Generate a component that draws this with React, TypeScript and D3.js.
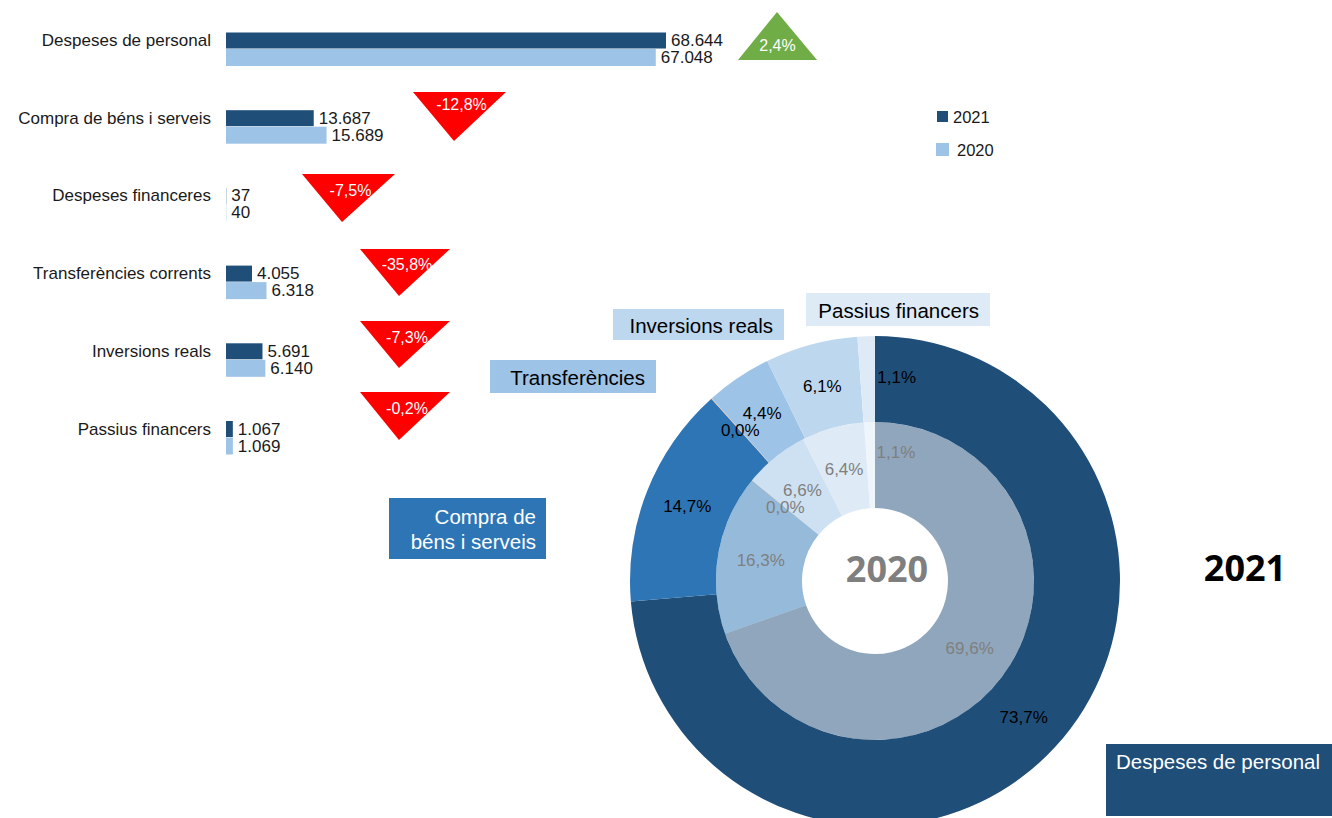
import React from "react";
import * as d3 from "d3";

// ---------- DATA ----------
const categories = [
  "Despeses de personal",
  "Compra de béns i serveis",
  "Despeses financeres",
  "Transferències corrents",
  "Inversions reals",
  "Passius financers",
];
const values2021 = [68644, 13687, 37, 4055, 5691, 1067];
const values2020 = [67048, 15689, 40, 6318, 6140, 1069];
const seriesNames = ["2021", "2020"];
const sliceColors = ["#1F4E79", "#2E75B6", "#F4B183", "#9DC3E6", "#BDD7EE", "#DEEBF7"];
const boxLabels = [
  ["Despeses de personal"],
  ["Compra de", "béns i serveis"],
  [],
  ["Transferències"],
  ["Inversions reals"],
  ["Passius financers"],
];

// ---------- LAYOUT ----------
const W = 1332;
const H = 818;
const FONT = "'Liberation Sans', Arial, Helvetica, sans-serif";
const barX0 = 226;
const barColor21 = "#1F4E79";
const barColor20 = "#9DC3E6";
// triangle annotations: left, right, top, bottom, apex x
const triLayout = [
  { l: 738, r: 817, top: 12, bot: 60, ax: 777, ty: 45 },
  { l: 413, r: 506, top: 92, bot: 141, ax: 454, ty: 104 },
  { l: 302, r: 395, top: 174, bot: 222, ax: 342, ty: 190 },
  { l: 360, r: 450, top: 249, bot: 296, ax: 399, ty: 264 },
  { l: 360, r: 450, top: 321, bot: 368, ax: 399, ty: 337 },
  { l: 360, r: 450, top: 392, bot: 440, ax: 399, ty: 408 },
];
const boxLayout = [
  { x: 1106, y: 744, w: 226, h: 72, tx: 1116, ty: 761, anchor: "start", fg: "#FFFFFF" },
  { x: 389, y: 498, w: 157, h: 61, tx: 536, ty: 516, anchor: "end", fg: "#FFFFFF" },
  null,
  { x: 490, y: 360, w: 166, h: 33, tx: 645, ty: 377, anchor: "end", fg: "#000000" },
  { x: 613, y: 309, w: 171, h: 31, tx: 773, ty: 325, anchor: "end", fg: "#000000" },
  { x: 806, y: 293, w: 184, h: 33, tx: 979, ty: 310, anchor: "end", fg: "#000000" },
];
const cx = 875;
const cy = 581;
const rHole = 73;
const rMid = 159;
const rOut = 245;
// label nudges for the narrow last slice
const outerNudge = [[0, 0], [0, 0], [0, 0], [0, 0], [0, 0], [29, -2]];
const innerNudge = [[0, 0], [0, 0], [0, 0], [0, 0], [0, 0], [25, -13]];

const fmtNum = (v: number) => d3.format(",")(v).replace(/,/g, ".");
const fmtPct = (v: number) =>
  d3.format(".1f")(v * 100).replace("\u2212", "-").replace(".", ",") + "%";

export default function App() {
  const y = d3.scalePoint<string>().domain(categories).range([48.5, 437]);
  const x = d3.scaleLinear().domain([0, 68644]).range([0, 440]);

  const pie = d3
    .pie<number>()
    .sort(null)
    .value((d) => d)
    .startAngle(0)
    .endAngle(2 * Math.PI);
  const arcs21 = pie(values2021);
  const arcs20 = pie(values2020);
  const tot21 = d3.sum(values2021);
  const tot20 = d3.sum(values2020);
  const arcOuter = d3.arc<d3.PieArcDatum<number>>().innerRadius(rMid).outerRadius(rOut);
  const arcInner = d3.arc<d3.PieArcDatum<number>>().innerRadius(rHole).outerRadius(rMid);

  return (
    <svg
      width={W}
      height={H}
      style={{ position: "absolute", left: 0, top: 0, background: "#fff" }}
      fontFamily={FONT}
    >
      {/* Bars */}
      {categories.map((c, i) => {
        const b = y(c) as number;
        const w21 = x(values2021[i]);
        const w20 = x(values2020[i]);
        return (
          <g key={c}>
            <text x={211} y={b - 8} textAnchor="end" dominantBaseline="central" fontSize={17} fill="#1a1a1a">
              {c}
            </text>
            <rect x={barX0} y={b - 16} width={w21} height={16} fill={barColor21} />
            <rect x={barX0} y={b + 0.5} width={w20} height={17} fill={barColor20} />
            <text x={barX0 + w21 + 5} y={b - 8} dominantBaseline="central" fontSize={17} fill="#1a1a1a">
              {fmtNum(values2021[i])}
            </text>
            <text x={barX0 + w20 + 5} y={b + 9} dominantBaseline="central" fontSize={17} fill="#1a1a1a">
              {fmtNum(values2020[i])}
            </text>
          </g>
        );
      })}

      {/* Change triangles */}
      {categories.map((c, i) => {
        const t = triLayout[i];
        const ch = values2021[i] / values2020[i] - 1;
        const up = ch >= 0;
        const pts = up
          ? `${t.ax},${t.top} ${t.r},${t.bot} ${t.l},${t.bot}`
          : `${t.l},${t.top} ${t.r},${t.top} ${t.ax},${t.bot}`;
        return (
          <g key={"t" + c}>
            <polygon points={pts} fill={up ? "#70AD47" : "#FF0000"} />
            <text
              x={(t.l + t.r) / 2 + (up ? 0 : 2)}
              y={t.ty}
              textAnchor="middle"
              dominantBaseline="central"
              fontSize={16}
              fill="#FFFFFF"
            >
              {fmtPct(ch)}
            </text>
          </g>
        );
      })}

      {/* Legend */}
      <rect x={937} y={111} width={11} height={11} fill={barColor21} />
      <text x={953} y={116.5} dominantBaseline="central" fontSize={16.5} fill="#1a1a1a">
        {seriesNames[0]}
      </text>
      <rect x={936} y={143} width={13} height={13} fill={barColor20} />
      <text x={957} y={150} dominantBaseline="central" fontSize={16.5} fill="#1a1a1a">
        {seriesNames[1]}
      </text>

      {/* Donut */}
      <g transform={`translate(${cx},${cy})`}>
        {arcs21.map((a, i) => (
          <path key={"o" + i} d={arcOuter(a) as string} fill={sliceColors[i]} />
        ))}
        {arcs20.map((a, i) => (
          <path key={"i" + i} d={arcInner(a) as string} fill={sliceColors[i]} fillOpacity={0.5} />
        ))}
        {arcs21.map((a, i) => {
          const [px, py] = arcOuter.centroid(a);
          return (
            <text
              key={"ol" + i}
              x={px + outerNudge[i][0]}
              y={py + outerNudge[i][1]}
              textAnchor="middle"
              dominantBaseline="central"
              fontSize={17}
              fill="#000000"
            >
              {fmtPct(values2021[i] / tot21)}
            </text>
          );
        })}
        {arcs20.map((a, i) => {
          const [px, py] = arcInner.centroid(a);
          return (
            <text
              key={"il" + i}
              x={px + innerNudge[i][0]}
              y={py + innerNudge[i][1]}
              textAnchor="middle"
              dominantBaseline="central"
              fontSize={17}
              fill="#7F7F7F"
            >
              {fmtPct(values2020[i] / tot20)}
            </text>
          );
        })}
      </g>
      <text
        x={887}
        y={568}
        textAnchor="middle"
        dominantBaseline="central"
        fontSize={36}
        fontWeight={700}
        fontFamily="'Open Sans', sans-serif"
        fill="#7F7F7F"
      >
        {seriesNames[1]}
      </text>
      <text
        x={1245}
        y={567}
        textAnchor="middle"
        dominantBaseline="central"
        fontSize={36}
        fontWeight={700}
        fontFamily="'Open Sans', sans-serif"
        fill="#000000"
      >
        {seriesNames[0]}
      </text>

      {/* Category boxes for donut */}
      {boxLayout.map((b, i) =>
        b ? (
          <g key={"b" + i}>
            <rect x={b.x} y={b.y} width={b.w} height={b.h} fill={sliceColors[i]} />
            {boxLabels[i].map((ln, k) => (
              <text
                key={k}
                x={b.tx}
                y={b.ty + k * 25}
                textAnchor={b.anchor as any}
                dominantBaseline="central"
                fontSize={20.5}
                fill={b.fg}
              >
                {ln}
              </text>
            ))}
          </g>
        ) : null
      )}
    </svg>
  );
}
